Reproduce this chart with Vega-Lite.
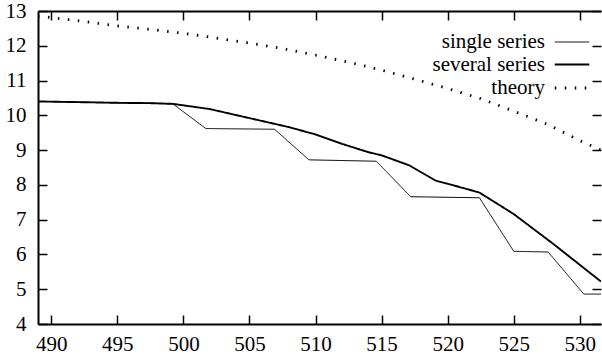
{
  "$schema": "https://vega.github.io/schema/vega-lite/v6.json",
  "width": 563,
  "height": 313,
  "autosize": {"type": "none"},
  "padding": {"left": 38, "top": 11, "right": 1, "bottom": 37},
  "background": "white",
  "config": {
    "view": {"stroke": null},
    "axis": {"labelFont": "Liberation Serif", "labelFontSize": 21, "labelColor": "black", "tickColor": "black", "domainColor": "black", "grid": false, "tickWidth": 1.5, "domainWidth": 2},
    "legend": {"labelFont": "Liberation Serif"}
  },
  "data": {"values": [
    {"series": "single series", "x": 489, "y": 10.40},
    {"series": "single series", "x": 492, "y": 10.38},
    {"series": "single series", "x": 495, "y": 10.36},
    {"series": "single series", "x": 497.5, "y": 10.35},
    {"series": "single series", "x": 499.2, "y": 10.33},
    {"series": "single series", "x": 501.7, "y": 9.62},
    {"series": "single series", "x": 506.9, "y": 9.60},
    {"series": "single series", "x": 509.5, "y": 8.72},
    {"series": "single series", "x": 514.6, "y": 8.68},
    {"series": "single series", "x": 517.2, "y": 7.66},
    {"series": "single series", "x": 522.4, "y": 7.63},
    {"series": "single series", "x": 525.0, "y": 6.09},
    {"series": "single series", "x": 527.6, "y": 6.07},
    {"series": "single series", "x": 530.3, "y": 4.86},
    {"series": "single series", "x": 531.6, "y": 4.86},
    {"series": "several series", "x": 489, "y": 10.40},
    {"series": "several series", "x": 492, "y": 10.38},
    {"series": "several series", "x": 495, "y": 10.36},
    {"series": "several series", "x": 497.5, "y": 10.35},
    {"series": "several series", "x": 499.2, "y": 10.33},
    {"series": "several series", "x": 502, "y": 10.18},
    {"series": "several series", "x": 505, "y": 9.92},
    {"series": "several series", "x": 508, "y": 9.66},
    {"series": "several series", "x": 510, "y": 9.45},
    {"series": "several series", "x": 512, "y": 9.18},
    {"series": "several series", "x": 514, "y": 8.94},
    {"series": "several series", "x": 515, "y": 8.85},
    {"series": "several series", "x": 517.1, "y": 8.56},
    {"series": "several series", "x": 519.1, "y": 8.12},
    {"series": "several series", "x": 520.5, "y": 7.98},
    {"series": "several series", "x": 522.4, "y": 7.78},
    {"series": "several series", "x": 525, "y": 7.16},
    {"series": "several series", "x": 528, "y": 6.30},
    {"series": "several series", "x": 531.6, "y": 5.22},
    {"series": "theory", "x": 489, "y": 12.85},
    {"series": "theory", "x": 490, "y": 12.81},
    {"series": "theory", "x": 492.5, "y": 12.70},
    {"series": "theory", "x": 495, "y": 12.57},
    {"series": "theory", "x": 497.5, "y": 12.47},
    {"series": "theory", "x": 500, "y": 12.36},
    {"series": "theory", "x": 502.5, "y": 12.22},
    {"series": "theory", "x": 505, "y": 12.08},
    {"series": "theory", "x": 507.5, "y": 11.92},
    {"series": "theory", "x": 510, "y": 11.73},
    {"series": "theory", "x": 512.5, "y": 11.53},
    {"series": "theory", "x": 515, "y": 11.30},
    {"series": "theory", "x": 517.5, "y": 11.04},
    {"series": "theory", "x": 520, "y": 10.77},
    {"series": "theory", "x": 522.5, "y": 10.48},
    {"series": "theory", "x": 525, "y": 10.12},
    {"series": "theory", "x": 527.5, "y": 9.75},
    {"series": "theory", "x": 530, "y": 9.27},
    {"series": "theory", "x": 531.6, "y": 9.0}
  ]},
  "layer": [
    {
      "mark": {"type": "line", "color": "black", "clip": true},
      "encoding": {
        "x": {"field": "x", "type": "quantitative", "title": null, "scale": {"domain": [489, 531.6], "nice": false, "zero": false},
              "axis": {"values": [490, 495, 500, 505, 510, 515, 520, 525, 530], "tickSize": -9, "labelPadding": 18}},
        "y": {"field": "y", "type": "quantitative", "title": null, "scale": {"domain": [4, 13], "nice": false, "zero": false},
              "axis": {"values": [4, 5, 6, 7, 8, 9, 10, 11, 12, 13], "tickSize": -9, "labelPadding": 21}},
        "strokeWidth": {"field": "series", "type": "nominal",
          "scale": {"domain": ["single series", "several series", "theory"], "range": [1, 2.8, 1.6]},
          "legend": {"title": null, "orient": "none", "legendX": 521, "legendY": 19, "symbolType": "M-1.5,0L1.5,0", "symbolSize": 529, "symbolStrokeColor": "black", "symbolFillColor": "transparent", "labelAlign": "right", "labelOffset": -40, "labelFontSize": 21, "labelColor": "black", "rowPadding": 0, "labelLimit": 300}},
        "strokeDash": {"field": "series", "type": "nominal",
          "scale": {"domain": ["single series", "several series", "theory"], "range": [[1, 0], [1, 0], [1.5, 8.5]]},
          "legend": {"title": null, "orient": "none", "legendX": 521, "legendY": 19, "symbolType": "M-1.5,0L1.5,0", "symbolSize": 529, "symbolStrokeColor": "black", "symbolFillColor": "transparent", "labelAlign": "right", "labelOffset": -40, "labelFontSize": 21, "labelColor": "black", "rowPadding": 0, "labelLimit": 300}},
        "order": {"field": "x", "type": "quantitative"}
      }
    },
    {
      "mark": {"type": "line", "opacity": 0},
      "encoding": {
        "x": {"field": "x", "type": "quantitative", "title": null,
              "axis": {"orient": "top", "values": [490, 495, 500, 505, 510, 515, 520, 525, 530], "tickSize": -9, "labels": false}},
        "y": {"field": "y", "type": "quantitative", "title": null,
              "axis": {"orient": "right", "values": [4, 5, 6, 7, 8, 9, 10, 11, 12, 13], "tickSize": -9, "labels": false, "domainOpacity": 0}}
      }
    }
  ],
  "resolve": {"axis": {"x": "independent", "y": "independent"}}
}
